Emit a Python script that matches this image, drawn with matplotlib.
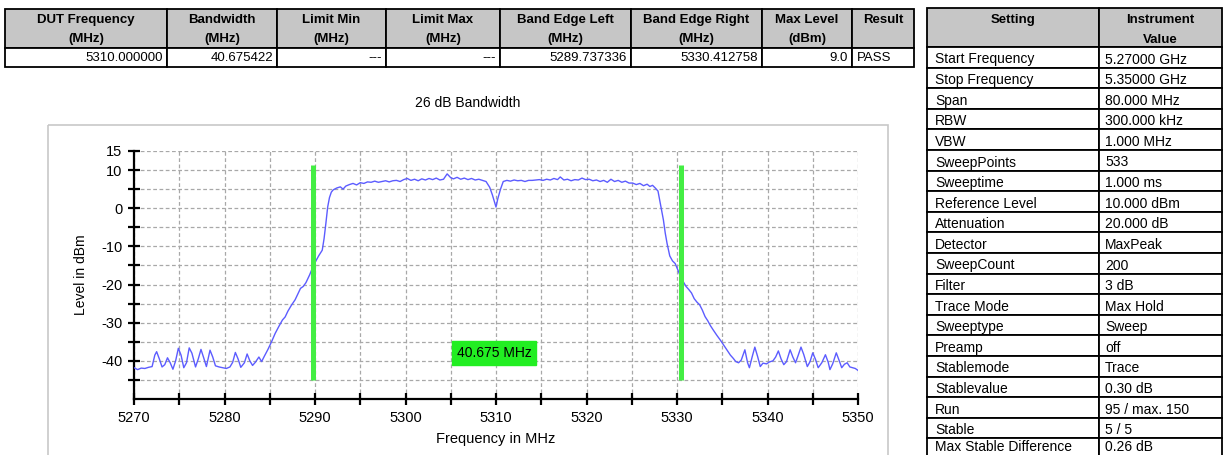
import matplotlib
matplotlib.use('Agg')
import matplotlib.pyplot as plt
from matplotlib.patches import Rectangle

plt.rcParams['font.family'] = ['Liberation Sans', 'DejaVu Sans']

# Max-hold trace (MHz, dBm)
freq_mhz = [
    5270.0, 5270.4, 5270.8, 5271.2, 5271.6, 5272.0, 5272.3, 5272.5, 5272.8, 5273.1,
    5273.4, 5273.7, 5274.0, 5274.3, 5274.6, 5274.9, 5275.2, 5275.5, 5275.8, 5276.1,
    5276.4, 5276.8, 5277.1, 5277.4, 5277.7, 5278.0, 5278.4, 5278.7, 5279.0, 5279.4,
    5279.8, 5280.2, 5280.6, 5280.9, 5281.2, 5281.5, 5281.8, 5282.2, 5282.5, 5282.8,
    5283.1, 5283.4, 5283.8, 5284.1, 5284.4, 5284.8, 5285.2, 5285.6, 5286.0, 5286.4,
    5286.7, 5287.0, 5287.4, 5287.8, 5288.1, 5288.4, 5288.7, 5289.0, 5289.4, 5289.8,
    5290.1, 5290.4, 5290.8, 5291.0, 5291.2, 5291.4, 5291.6, 5291.8, 5292.0, 5292.4,
    5292.8, 5293.1, 5293.4, 5293.8, 5294.2, 5294.6, 5295.0, 5295.4, 5295.8, 5296.2,
    5296.6, 5297.0, 5297.4, 5297.8, 5298.2, 5298.6, 5299.0, 5299.4, 5299.8, 5300.2,
    5300.6, 5301.0, 5301.4, 5301.8, 5302.2, 5302.6, 5303.0, 5303.4, 5303.8, 5304.2,
    5304.6, 5305.0, 5305.3, 5305.7, 5306.1, 5306.5, 5306.9, 5307.3, 5307.7, 5308.1,
    5308.5, 5308.9, 5309.3, 5309.6, 5310.0, 5310.2, 5310.5, 5310.8, 5311.2, 5311.6,
    5312.0, 5312.4, 5312.8, 5313.2, 5313.6, 5314.0, 5314.4, 5314.8, 5315.2, 5315.6,
    5316.0, 5316.4, 5316.8, 5317.1, 5317.5, 5317.9, 5318.3, 5318.7, 5319.1, 5319.5,
    5319.9, 5320.3, 5320.7, 5321.1, 5321.5, 5321.9, 5322.3, 5322.7, 5323.1, 5323.5,
    5323.9, 5324.3, 5324.7, 5325.1, 5325.5, 5325.9, 5326.3, 5326.7, 5327.0, 5327.3,
    5327.6, 5327.9, 5328.1, 5328.3, 5328.5, 5328.7, 5328.9, 5329.2, 5329.5, 5329.8,
    5330.1, 5330.4, 5330.7, 5331.0, 5331.3, 5331.6, 5331.9, 5332.2, 5332.5, 5332.8,
    5333.1, 5333.4, 5333.7, 5334.0, 5334.4, 5334.8, 5335.2, 5335.5, 5335.9, 5336.2,
    5336.5, 5336.8, 5337.1, 5337.5, 5337.8, 5338.0, 5338.3, 5338.6, 5338.9, 5339.2,
    5339.5, 5339.9, 5340.2, 5340.6, 5340.9, 5341.2, 5341.5, 5341.8, 5342.1, 5342.5,
    5342.8, 5343.1, 5343.4, 5343.7, 5344.0, 5344.4, 5344.7, 5345.0, 5345.3, 5345.6,
    5346.0, 5346.4, 5346.7, 5346.9, 5347.2, 5347.6, 5347.9, 5348.2, 5348.5, 5348.8,
    5349.1, 5349.4, 5349.7, 5350.0,
]
level_dbm = [
    -41.8, -42.3, -41.9, -42.0, -41.7, -41.5, -38.5, -37.6, -39.5, -41.6,
    -41.0, -39.2, -40.5, -42.2, -40.0, -36.7, -38.5, -41.8, -40.5, -36.6,
    -38.0, -41.6, -39.5, -37.0, -39.2, -41.5, -37.2, -39.0, -41.3, -41.6,
    -41.8, -42.0, -41.6, -40.4, -37.8, -39.5, -41.7, -40.5, -38.2, -40.0,
    -41.2, -40.4, -39.0, -40.2, -38.8, -37.0, -35.0, -32.8, -31.0, -29.3,
    -28.5, -27.0, -25.4, -24.0, -22.5, -21.0, -20.5, -19.5, -17.5, -15.2,
    -13.8, -12.5, -11.0, -8.0, -4.0, 0.3, 2.8, 4.2, 4.8, 5.3,
    5.6, 5.0, 5.8, 6.2, 6.5, 6.1, 6.7, 6.5, 6.9, 6.8,
    7.1, 6.8, 7.0, 7.2, 6.9, 7.2, 7.3, 7.0, 7.5, 7.8,
    7.3, 7.6, 7.2, 7.7, 7.4, 7.8, 7.5, 7.9, 7.4, 7.6,
    9.0, 8.0, 7.7, 8.1, 7.6, 7.9, 7.5, 7.8, 7.4, 7.6,
    7.3, 7.0, 5.5, 3.5, 0.3, 2.5, 5.0, 7.0, 7.3, 7.1,
    7.4, 7.2, 7.3, 7.0, 7.3, 7.3, 7.4, 7.5, 7.3, 7.6,
    7.4, 7.8, 7.5, 8.2, 7.4, 7.6, 7.2, 7.5, 7.4, 7.9,
    7.5, 7.6, 7.2, 7.4, 7.0, 7.3, 6.8, 7.6, 7.0, 7.3,
    6.8, 7.1, 6.6, 6.6, 6.2, 6.5, 5.9, 6.3, 5.7, 6.0,
    5.3, 4.5, 2.0, -0.5, -3.1, -6.5, -9.2, -12.5, -13.8, -14.5,
    -16.2, -18.0, -19.3, -20.5, -21.3, -22.2, -23.7, -24.6, -25.3, -26.7,
    -28.4, -29.5, -30.8, -31.9, -33.3, -34.6, -36.0, -37.1, -38.5, -39.3,
    -40.2, -40.5, -39.8, -37.1, -40.5, -41.8, -39.0, -36.4, -38.8, -41.5,
    -40.6, -40.8, -40.3, -40.0, -39.0, -37.4, -39.5, -41.0, -40.2, -37.1,
    -39.0, -40.5, -38.5, -36.4, -38.3, -41.5, -40.2, -37.9, -39.6, -41.8,
    -40.5, -38.4, -40.3, -42.3, -40.8, -37.9, -39.8, -41.8, -40.9, -40.5,
    -41.6, -41.8, -42.0, -42.5,
]

# measurement result
dut_freq_mhz = 5310.0
bandwidth_mhz = 40.675422
band_edge_left = 5289.737336
band_edge_right = 5330.412758
max_level_dbm = 9.0
verdict = 'PASS'

result_headers = [
    ('DUT Frequency', '(MHz)'), ('Bandwidth', '(MHz)'), ('Limit Min', '(MHz)'),
    ('Limit Max', '(MHz)'), ('Band Edge Left', '(MHz)'), ('Band Edge Right', '(MHz)'),
    ('Max Level', '(dBm)'), ('Result', ''),
]
result_values = [
    f'{dut_freq_mhz:.6f}', f'{bandwidth_mhz:.6f}', '---', '---',
    f'{band_edge_left:.6f}', f'{band_edge_right:.6f}', f'{max_level_dbm:.1f}', verdict,
]

setting_names = [
    'Start Frequency', 'Stop Frequency', 'Span', 'RBW', 'VBW', 'SweepPoints',
    'Sweeptime', 'Reference Level', 'Attenuation', 'Detector', 'SweepCount',
    'Filter', 'Trace Mode', 'Sweeptype', 'Preamp', 'Stablemode', 'Stablevalue',
    'Run', 'Stable', 'Max Stable Difference',
]
setting_values = [
    '5.27000 GHz', '5.35000 GHz', '80.000 MHz', '300.000 kHz', '1.000 MHz', '533',
    '1.000 ms', '10.000 dBm', '20.000 dB', 'MaxPeak', '200',
    '3 dB', 'Max Hold', 'Sweep', 'off', 'Trace', '0.30 dB',
    '95 / max. 150', '5 / 5', '0.26 dB',
]

x_ticks = [5270, 5275, 5280, 5285, 5290, 5295, 5300, 5305, 5310,
           5315, 5320, 5325, 5330, 5335, 5340, 5345, 5350]
x_tick_labels = ['5270', '', '5280', '', '5290', '', '5300', '', '5310',
                 '', '5320', '', '5330', '', '5340', '', '5350']
y_ticks = [-45, -40, -35, -30, -25, -20, -15, -10, -5, 0, 5, 10, 15]
y_tick_labels = ['', '-40', '', '-30', '', '-20', '', '-10', '', '0', '', '10', '15']

W, H = 1223, 455
HEADER_GRAY = '#c6c6c6'
TRACE_BLUE = '#5c5cff'
MARKER_GREEN = '#44ee44'

fig = plt.figure(figsize=(W / 100, H / 100), dpi=100)

# page layer in pixel coordinates for the tables and the chart frame
page = fig.add_axes([0, 0, 1, 1], zorder=0)
page.set_xlim(0, W)
page.set_ylim(H, 0)
page.axis('off')


def cell(x0, y0, x1, y1, fill='white', lw=1.3):
    page.add_patch(Rectangle((x0, y0), x1 - x0, y1 - y0, facecolor=fill,
                             edgecolor='black', linewidth=lw))


# result table
res_cols = [5, 167, 277, 386, 500, 631, 762, 852, 914]
res_rows = [9, 48, 67]
for i, (top, bottom) in enumerate(result_headers):
    x0, x1 = res_cols[i], res_cols[i + 1]
    cell(x0, res_rows[0], x1, res_rows[1], fill=HEADER_GRAY)
    cell(x0, res_rows[1], x1, res_rows[2])
    cx = (x0 + x1) / 2
    page.text(cx, 20, top, ha='center', va='center', fontsize=9.5, weight='bold')
    if bottom:
        page.text(cx, 39, bottom, ha='center', va='center', fontsize=9.5, weight='bold')
    val = result_values[i]
    if val == verdict:
        page.text(x0 + 5, 58, val, ha='left', va='center', fontsize=9.5)
    else:
        page.text(x1 - 4, 58, val, ha='right', va='center', fontsize=9.5)

# instrument settings table
set_cols = [927, 1099, 1222]
row_h = 20.6
head_top, head_bot = 8, 47
cell(set_cols[0], head_top, set_cols[1], head_bot, fill=HEADER_GRAY)
cell(set_cols[1], head_top, set_cols[2], head_bot, fill=HEADER_GRAY)
page.text((set_cols[0] + set_cols[1]) / 2, 20, 'Setting', ha='center', va='center',
          fontsize=9.5, weight='bold')
page.text((set_cols[1] + set_cols[2]) / 2, 20, 'Instrument', ha='center', va='center',
          fontsize=9.5, weight='bold')
page.text((set_cols[1] + set_cols[2]) / 2, 40, 'Value', ha='center', va='center',
          fontsize=9.5, weight='bold')
n_rows = len(setting_names)
for i, (name, value) in enumerate(zip(setting_names, setting_values)):
    y0 = head_bot + i * row_h
    cell(set_cols[0], y0, set_cols[1], y0 + row_h)
    cell(set_cols[1], y0, set_cols[2], y0 + row_h)
    # the last row runs into the page edge, so lift its text a little
    ty = y0 + (8.5 if i == n_rows - 1 else 12.5)
    page.text(set_cols[0] + 8, ty, name, ha='left', va='center', fontsize=10)
    page.text(set_cols[1] + 6, ty, value, ha='left', va='center', fontsize=10)

# light frame round the chart
page.add_patch(Rectangle((48, 125), 888 - 48, 340, facecolor='none',
                         edgecolor='#c8c8c8', linewidth=1.2))
page.text(468, 103, '26 dB Bandwidth', ha='center', va='center', fontsize=10)

# spectrum plot
ax = fig.add_axes([134 / W, 1 - 399 / H, (858 - 134) / W, (399 - 151) / H], zorder=1)
ax.patch.set_alpha(0)
ax.plot(freq_mhz, level_dbm, color=TRACE_BLUE, linewidth=1.0, zorder=3)
ax.vlines([band_edge_left, band_edge_right], -45, 11.2, color=MARKER_GREEN,
          linewidth=3.6, zorder=4)
ax.text((band_edge_left + band_edge_right) / 2 - 0.3, -38, f'{bandwidth_mhz:.3f} MHz',
        ha='center', va='center', fontsize=10, zorder=5,
        bbox=dict(boxstyle='square,pad=0.36', facecolor='#22ee22', edgecolor='#22ee22'))

ax.set_xlim(5270, 5350)
ax.set_ylim(-50, 15)
ax.set_xticks(x_ticks, x_tick_labels)
ax.set_yticks(y_ticks, y_tick_labels)
ax.tick_params(direction='inout', length=9, width=1.6, labelsize=10.5, pad=4)
for side in ('top', 'right'):
    ax.spines[side].set_visible(False)
for side in ('left', 'bottom'):
    ax.spines[side].set_linewidth(1.6)
ax.grid(True, color='#a8a8a8', linestyle=(0, (3, 2)), linewidth=0.9, zorder=1)
ax.set_axisbelow(True)

ax.set_xlabel('Frequency in MHz', fontsize=10.5)
ax.set_ylabel('Level in dBm', fontsize=10)
ax.xaxis.set_label_coords(0.5, -0.135)
ax.yaxis.set_label_coords(-0.064, 0.5)

fig.savefig('out.png', dpi=100)
